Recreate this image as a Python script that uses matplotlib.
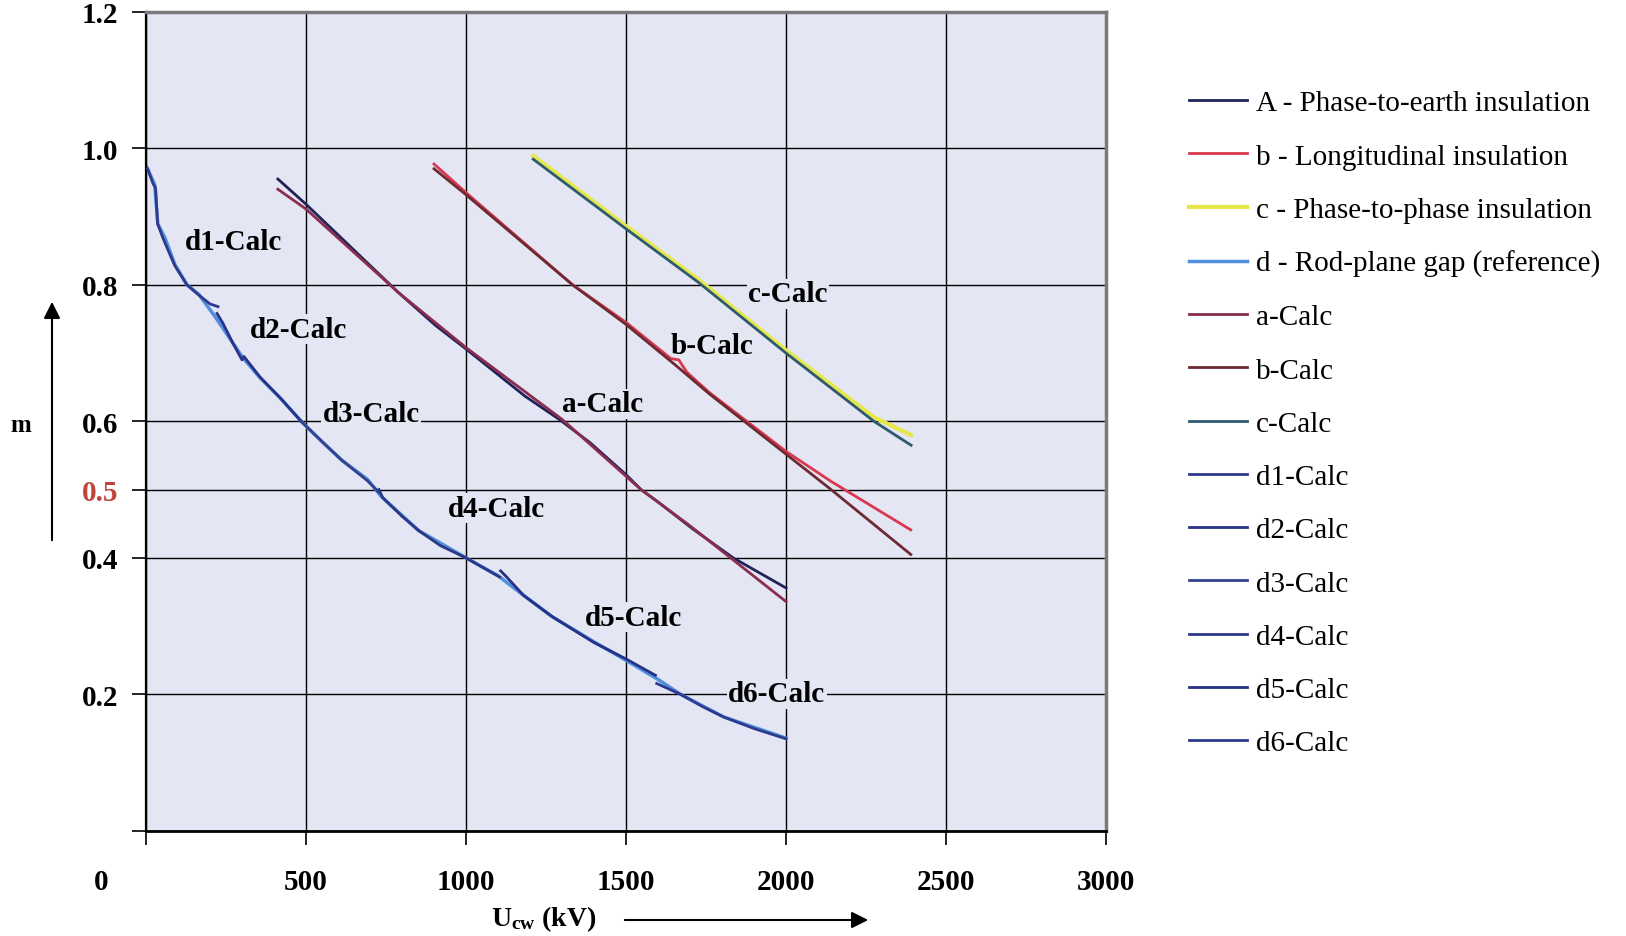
import matplotlib
matplotlib.use('Agg')
import matplotlib.pyplot as plt
import matplotlib.transforms as mtransforms

plt.rcParams['font.family'] = ['Liberation Serif', 'DejaVu Serif']
plt.rcParams['mathtext.fontset'] = 'custom'
plt.rcParams['mathtext.rm'] = 'Liberation Serif:bold'
plt.rcParams['mathtext.it'] = 'Liberation Serif:bold'
plt.rcParams['mathtext.bf'] = 'Liberation Serif:bold'

# --- data (x in kV, y = m) ---
# a: phase-to-earth insulation
a_ref_x = [412, 500, 788, 906, 1000, 1184, 1291, 1387, 1500, 1547, 1600, 1707, 1835, 2000]
a_ref_y = [0.955, 0.918, 0.789, 0.740, 0.706, 0.637, 0.603, 0.569, 0.522, 0.500, 0.482, 0.443, 0.400, 0.356]
a_calc_x = [412, 500, 788, 1000, 1300, 1547, 1700, 1835, 2000]
a_calc_y = [0.940, 0.911, 0.789, 0.708, 0.603, 0.500, 0.447, 0.397, 0.336]

# b: longitudinal insulation
b_ref_x = [900, 1000, 1333, 1500, 1640, 1665, 1690, 1761, 2000, 2141, 2390]
b_ref_y = [0.977, 0.935, 0.800, 0.745, 0.692, 0.690, 0.672, 0.642, 0.556, 0.512, 0.441]
b_calc_x = [900, 1000, 1333, 1500, 1653, 1761, 2000, 2141, 2390]
b_calc_y = [0.970, 0.932, 0.800, 0.742, 0.683, 0.640, 0.552, 0.500, 0.405]

# c: phase-to-phase insulation
c_ref_x = [1210, 1500, 1728, 2000, 2275, 2391]
c_ref_y = [0.989, 0.886, 0.807, 0.704, 0.606, 0.580]
c_calc_x = [1210, 1500, 1728, 2000, 2275, 2391]
c_calc_y = [0.984, 0.882, 0.803, 0.700, 0.600, 0.565]

# d: rod-plane gap reference
d_ref_x = [0, 27, 37, 59, 90, 128, 165, 218, 271, 303, 356, 420, 489, 553, 612, 692, 735,
           852, 1000, 1100, 1180, 1269, 1400, 1500, 1600, 1671, 1805, 2000]
d_ref_y = [0.975, 0.947, 0.889, 0.869, 0.830, 0.800, 0.786, 0.752, 0.715, 0.693, 0.664, 0.634,
           0.598, 0.569, 0.543, 0.515, 0.490, 0.440, 0.400, 0.374, 0.345, 0.314, 0.277, 0.250,
           0.222, 0.200, 0.167, 0.136]

# d1..d6 calculated segments
d1_x = [5, 22, 30, 36, 50, 65, 90, 128, 165, 200, 225]
d1_y = [0.970, 0.948, 0.942, 0.890, 0.872, 0.855, 0.828, 0.800, 0.785, 0.772, 0.768]
d2_x = [222, 240, 271, 300, 306, 356, 420, 485]
d2_y = [0.758, 0.744, 0.715, 0.690, 0.695, 0.665, 0.634, 0.600]
d3_x = [485, 553, 612, 692, 728]
d3_y = [0.600, 0.569, 0.543, 0.513, 0.496]
d4_x = [728, 740, 800, 852, 920, 1000, 1105]
d4_y = [0.500, 0.488, 0.461, 0.440, 0.418, 0.400, 0.372]
d5_x = [1108, 1125, 1180, 1269, 1400, 1500, 1592]
d5_y = [0.381, 0.373, 0.345, 0.314, 0.276, 0.252, 0.228]
d6_x = [1596, 1671, 1740, 1805, 1900, 2000]
d6_y = [0.216, 0.200, 0.182, 0.167, 0.150, 0.135]

legend_labels = ['A - Phase-to-earth insulation', 'b - Longitudinal insulation',
                 'c - Phase-to-phase insulation', 'd - Rod-plane gap (reference)',
                 'a-Calc', 'b-Calc', 'c-Calc', 'd1-Calc', 'd2-Calc', 'd3-Calc',
                 'd4-Calc', 'd5-Calc', 'd6-Calc']

curve_labels = ['d1-Calc', 'd2-Calc', 'd3-Calc', 'd4-Calc', 'd5-Calc', 'd6-Calc',
                'a-Calc', 'b-Calc', 'c-Calc']
curve_label_x = [272, 476, 703, 1095, 1522, 1971, 1428, 1769, 2006]
curve_label_y = [0.863, 0.735, 0.611, 0.473, 0.313, 0.201, 0.626, 0.711, 0.787]

x_ticks = [0, 500, 1000, 1500, 2000, 2500, 3000]
y_ticks = [0, 0.2, 0.4, 0.5, 0.6, 0.8, 1.0, 1.2]
y_ticklabels = ['', '0.2', '0.4', '0.5', '0.6', '0.8', '1.0', '1.2']

bg = '#e4e6f4'

fig = plt.figure(figsize=(16.26, 9.37), dpi=100)
ax = fig.add_axes([0.0898, 0.1121, 0.5904, 0.8743])
ax.set_facecolor(bg)

lw = 2.0
handles = []
handles += ax.plot(a_ref_x, a_ref_y, color='#1f2358', lw=lw, zorder=3)
handles += ax.plot(b_ref_x, b_ref_y, color='#d9384f', lw=lw, zorder=3)
handles += ax.plot(c_ref_x, c_ref_y, color='#e6e84a', lw=lw + 1, zorder=2)
handles += ax.plot(d_ref_x, d_ref_y, color='#4f8fdc', lw=lw + 0.5, zorder=2)
handles += ax.plot(a_calc_x, a_calc_y, color='#8a2d4e', lw=lw, zorder=3)
handles += ax.plot(b_calc_x, b_calc_y, color='#6e2a33', lw=lw, zorder=3)
handles += ax.plot(c_calc_x, c_calc_y, color='#2d5a6e', lw=lw, zorder=3)
d_colors = ['#2e3a8c', '#283288', '#34428e', '#2b3888', '#263084', '#2e3a90']
for (xs, ys), col in zip([(d1_x, d1_y), (d2_x, d2_y), (d3_x, d3_y), (d4_x, d4_y),
                          (d5_x, d5_y), (d6_x, d6_y)], d_colors):
    handles += ax.plot(xs, ys, color=col, lw=lw, zorder=3)

for s, x, y in zip(curve_labels, curve_label_x, curve_label_y):
    ax.text(x, y, s, ha='center', va='center', fontsize=21, fontweight='bold',
            bbox=dict(facecolor=bg, edgecolor='none', pad=1), zorder=1.8)

ax.set_xlim(0, 3000)
ax.set_ylim(0, 1.2)
ax.set_xticks(x_ticks)
ax.set_xticklabels([str(t) for t in x_ticks])
ax.set_yticks(y_ticks)
ax.set_yticklabels(y_ticklabels)
ax.grid(True, color='black', linewidth=1.0)
ax.set_axisbelow(True)
ax.tick_params(axis='x', length=10, width=1.2, pad=17, labelsize=21)
ax.tick_params(axis='y', length=10, width=1.2, pad=10, labelsize=21)
for lab in ax.get_xticklabels() + ax.get_yticklabels():
    lab.set_fontweight('bold')
ax.get_yticklabels()[3].set_color('#c0443a')
shift = mtransforms.ScaledTranslation(-0.45, 0, fig.dpi_scale_trans)
lab0 = ax.get_xticklabels()[0]
lab0.set_transform(lab0.get_transform() + shift)

ax.spines['left'].set_linewidth(1.6)
ax.spines['bottom'].set_linewidth(2.0)
for side in ['top', 'right']:
    ax.spines[side].set_color('#7a7a7a')
    ax.spines[side].set_linewidth(2.5)

ax.legend(handles, legend_labels, loc='upper left', bbox_to_anchor=(1189 / 1626, 1 - 91 / 937),
          bbox_transform=fig.transFigure, frameon=False, fontsize=21, handlelength=2.0,
          handletextpad=0.3, labelspacing=0.92, borderpad=0, borderaxespad=0)

# axis titles with arrows
fig.text(21 / 1626, 1 - 425 / 937, 'm', fontsize=18, fontweight='bold', ha='center', va='center')
ax.annotate('', xy=(52 / 1626, 1 - 300 / 937), xytext=(52 / 1626, 1 - 544 / 937),
            xycoords='figure fraction', textcoords='figure fraction', annotation_clip=False,
            arrowprops=dict(arrowstyle='-|>', color='black', lw=1.5, mutation_scale=25))
fig.text(544 / 1626, 1 - 919 / 937, r'U$_{\rm cw}$ (kV)', fontsize=20, fontweight='bold',
         ha='center', va='center')
ax.annotate('', xy=(871 / 1626, 1 - 921 / 937), xytext=(622 / 1626, 1 - 921 / 937),
            xycoords='figure fraction', textcoords='figure fraction', annotation_clip=False,
            arrowprops=dict(arrowstyle='-|>', color='black', lw=1.5, mutation_scale=25))

fig.savefig('out.png', dpi=100)
